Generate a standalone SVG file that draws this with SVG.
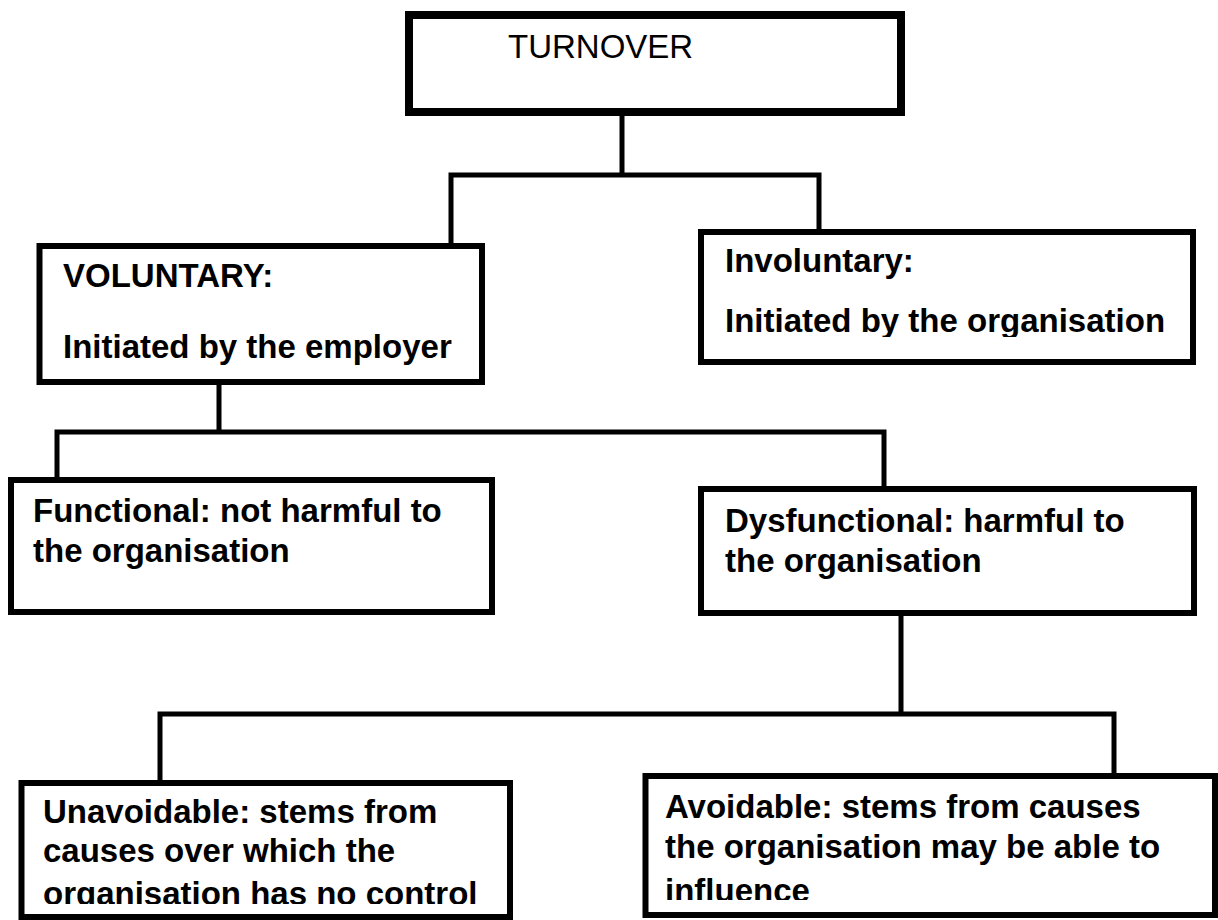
<svg xmlns="http://www.w3.org/2000/svg" width="1218" height="920" viewBox="0 0 1218 920">
<style>
.box{fill:#fff;stroke:#000;stroke-width:6}
.top{fill:#fff;stroke:#000;stroke-width:8}
.conn{fill:none;stroke:#000;stroke-width:5;stroke-linecap:square}
.t{font-family:"Liberation Sans",Arial,sans-serif;font-size:33px;fill:#000;font-weight:bold}
.tr{font-family:"Liberation Sans",Arial,sans-serif;font-size:33px;fill:#000}
</style>
<defs>
<clipPath id="clipInv"><rect x="700" y="230" width="500" height="107"/></clipPath>
<clipPath id="clipUn"><rect x="20" y="780" width="495" height="124"/></clipPath>
<clipPath id="clipAv"><rect x="640" y="770" width="578" height="130"/></clipPath>
</defs>
<rect width="1218" height="920" fill="#fff"/>
<g id="connectors">
<path class="conn" d="M622 112 V175 M451 175 H819 M451 175 V246 M819 175 V232"/>
<path class="conn" d="M219 382 V432 M57 432 H884 M57 432 V480 M884 432 V489"/>
<path class="conn" d="M901 613 V714 M160 714 H1114 M160 714 V783 M1114 714 V776"/>
</g>
<g id="turnover">
<rect class="top" x="409" y="15" width="492" height="97"/>
<text class="tr" x="508" y="58">TURNOVER</text>
</g>
<g id="voluntary">
<rect class="box" x="39.5" y="246" width="442.5" height="136"/>
<text class="t" x="63" y="287">VOLUNTARY:</text>
<text class="t" x="63" y="358">Initiated by the employer</text>
</g>
<g id="involuntary">
<rect class="box" x="701" y="232" width="492" height="130"/>
<text class="t" x="725" y="272">Involuntary:</text>
<text class="t" x="725" y="332" clip-path="url(#clipInv)">Initiated by the organisation</text>
</g>
<g id="functional">
<rect class="box" x="11" y="480" width="481" height="132"/>
<text class="t" x="33" y="522">Functional: not harmful to</text>
<text class="t" x="33" y="562">the organisation</text>
</g>
<g id="dysfunctional">
<rect class="box" x="701" y="489" width="493" height="124"/>
<text class="t" x="725" y="532">Dysfunctional: harmful to</text>
<text class="t" x="725" y="572">the organisation</text>
</g>
<g id="unavoidable">
<rect class="box" x="21.5" y="783" width="488.5" height="134"/>
<g clip-path="url(#clipUn)">
<text class="t" x="43" y="823">Unavoidable: stems from</text>
<text class="t" x="43" y="862">causes over which the</text>
<text class="t" x="43" y="905">organisation has no control</text>
</g>
</g>
<g id="avoidable">
<rect class="box" x="645.5" y="776" width="569.5" height="139"/>
<g clip-path="url(#clipAv)">
<text class="t" x="665" y="818">Avoidable: stems from causes</text>
<text class="t" x="665" y="858">the organisation may be able to</text>
<text class="t" x="665" y="902">influence</text>
</g>
</g>
</svg>
